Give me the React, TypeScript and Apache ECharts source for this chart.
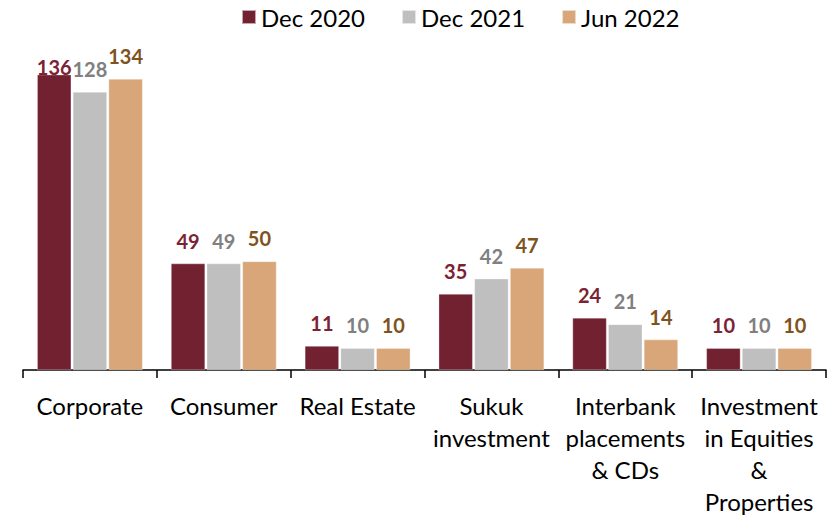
import React, { useEffect, useRef } from "react";
import * as echarts from "echarts";

const categories = [
  "Corporate",
  "Consumer",
  "Real Estate",
  "Sukuk\ninvestment",
  "Interbank\nplacements\n& CDs",
  "Investment\nin Equities\n&\nProperties",
];
const seriesNames = ["Dec 2020", "Dec 2021", "Jun 2022"];
const dec2020 = [136, 49, 11, 35, 24, 10];
const dec2021 = [128, 49, 10, 42, 21, 10];
const jun2022 = [134, 50, 10, 47, 14, 10];

const barColors = ["#722130", "#BFBFBF", "#D8A679"];
const labelColors = ["#7B2334", "#808080", "#7F5320"];

export default function App() {
  const ref = useRef<HTMLDivElement>(null);
  useEffect(() => {
    if (!ref.current) return;
    const chart = echarts.init(ref.current, null, { renderer: "svg" });
    const font = "Lato, 'Noto Sans', sans-serif";
    const all = [dec2020, dec2021, jun2022];
    chart.setOption({
      animation: false,
      textStyle: { fontFamily: font },
      legend: {
        top: 0,
        left: 236,
        itemWidth: 14,
        itemHeight: 14,
        itemGap: 36,
        icon: "rect",
        textStyle: { fontSize: 24, color: "#000", fontFamily: font },
        data: seriesNames,
      },
      grid: { left: 23, right: 14, top: 66, bottom: 145 },
      xAxis: {
        type: "category",
        data: categories,
        boundaryGap: true,
        axisLine: { lineStyle: { color: "#000", width: 1.5 } },
        axisTick: { show: true, length: 8, alignWithLabel: false, lineStyle: { color: "#000", width: 1.5 } },
        axisLabel: {
          interval: 0,
          fontSize: 24,
          color: "#000",
          lineHeight: 32,
          margin: 19,
          fontFamily: font,
        },
      },
      yAxis: {
        type: "value",
        min: 0,
        max: 140,
        show: false,
        splitLine: { show: false },
      },
      series: all.map((vals, i) => ({
        name: seriesNames[i],
        type: "bar",
        barWidth: 34,
        barGap: "5%",
        itemStyle: { color: barColors[i], borderColor: "rgba(255,255,255,0.6)", borderWidth: 0.5 },
        label: {
          show: true,
          position: "top",
          distance: 13,
          fontSize: 20,
          fontWeight: "bold",
          color: labelColors[i],
          fontFamily: font,
        },
        data: vals.map((v, j) =>
          i === 0 && j === 0
            ? { value: v, label: { offset: [0, 15] } }
            : v
        ),
      })),
    });
    return () => chart.dispose();
  }, []);
  return (
    <div
      ref={ref}
      style={{ position: "fixed", left: 0, top: 0, width: 840, height: 517, background: "#fff" }}
    />
  );
}
